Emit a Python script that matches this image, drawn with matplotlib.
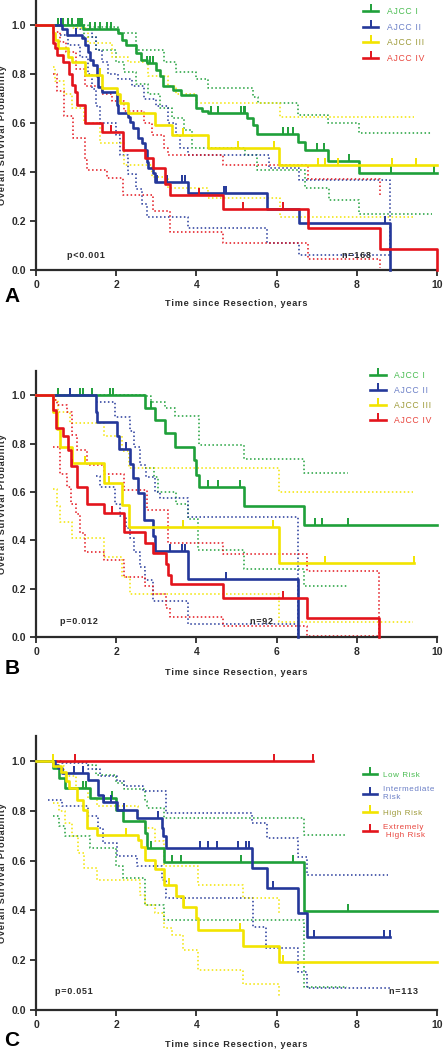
import matplotlib
matplotlib.use("Agg")
import matplotlib.pyplot as plt
from matplotlib.lines import Line2D

plt.rcParams['font.family'] = ['Liberation Sans', 'DejaVu Sans']

GREEN = "#1fa03a"
BLUE = "#24389a"
YELLOW = "#f2e400"
RED = "#e3141c"
TXT_COLORS = ["#48bc50", "#6a7ec6", "#9d9a38", "#e8443c"]

# ---------------------------------------------------------------------------
#  Panel A  (AJCC stage, n=168)   -- step points (time, survival)
# ---------------------------------------------------------------------------
A_I = [(0, 1.0), (1.18, 0.983), (2.05, 0.966), (2.15, 0.94), (2.25, 0.92), (2.5, 0.884),
       (2.63, 0.857), (2.76, 0.843), (3.0, 0.816), (3.1, 0.79), (3.17, 0.75), (3.42, 0.734),
       (3.62, 0.713), (4.0, 0.66), (4.15, 0.65), (4.29, 0.64), (5.27, 0.62), (5.42, 0.592),
       (5.5, 0.557), (6.54, 0.524), (6.71, 0.49), (7.27, 0.446), (8.05, 0.396), (10.0, 0.396)]
A_I_cens = [0.56, 0.68, 0.81, 0.89, 1.05, 1.1, 1.15, 1.34, 1.47, 1.59, 1.76, 1.88, 2.78, 2.85,
            2.92, 4.37, 4.54, 5.1, 5.18, 5.22, 6.17, 6.29, 6.42, 7.0, 7.17, 7.8, 8.85, 9.93]
A_I_hi = [(0, 1.0), (1.3, 0.99), (2.05, 0.966), (2.5, 0.9), (3.2, 0.85), (3.5, 0.81), (4.0, 0.78),
          (4.3, 0.744), (5.4, 0.707), (5.53, 0.68), (6.54, 0.633), (7.27, 0.6), (8.05, 0.558),
          (9.88, 0.558)]
A_I_lo = [(0, 1.0), (1.2, 0.95), (1.5, 0.9), (2.0, 0.85), (2.2, 0.81), (2.5, 0.76), (2.8, 0.72),
          (3.1, 0.66), (3.4, 0.62), (3.7, 0.57), (3.9, 0.5), (5.2, 0.47), (5.5, 0.408),
          (6.7, 0.333), (7.3, 0.286), (8.05, 0.229), (9.88, 0.229)]

A_II = [(0, 1.0), (0.64, 0.984), (0.78, 0.96), (1.14, 0.948), (1.22, 0.918), (1.3, 0.89),
        (1.35, 0.857), (1.43, 0.837), (1.51, 0.79), (1.55, 0.748), (1.64, 0.725), (2.01, 0.673),
        (2.05, 0.64), (2.3, 0.626), (2.35, 0.605), (2.43, 0.578), (2.55, 0.537), (2.64, 0.517),
        (2.72, 0.49), (2.76, 0.442), (2.8, 0.415), (2.93, 0.395), (2.97, 0.36), (3.8, 0.313),
        (5.76, 0.25), (6.56, 0.19), (8.83, 0.0)]
A_II_cens = [0.62, 1.0, 3.01, 3.26, 3.63, 3.72, 4.7, 4.75, 8.7]
A_II_hi = [(0, 1.0), (1.1, 0.985), (1.4, 0.95), (1.5, 0.9), (1.65, 0.85), (1.8, 0.8), (2.05, 0.78),
           (2.4, 0.75), (2.7, 0.7), (3.0, 0.67), (3.3, 0.6), (3.5, 0.55), (3.6, 0.5), (3.8, 0.47),
           (5.8, 0.415), (6.56, 0.367), (8.83, 0.06)]
A_II_lo = [(0.6, 0.96), (0.8, 0.92), (1.1, 0.87), (1.3, 0.8), (1.4, 0.74), (1.5, 0.67), (1.6, 0.6),
           (2.0, 0.55), (2.1, 0.47), (2.3, 0.39), (2.5, 0.33), (2.65, 0.27), (2.77, 0.218),
           (3.8, 0.17), (5.76, 0.11), (6.56, 0.06), (8.83, 0.06)]

A_III = [(0, 1.0), (0.43, 0.966), (0.47, 0.94), (0.56, 0.905), (0.81, 0.87), (0.89, 0.85),
         (1.22, 0.796), (1.64, 0.741), (2.01, 0.72), (2.1, 0.68), (2.3, 0.64), (2.97, 0.592),
         (3.38, 0.551), (4.3, 0.5), (6.07, 0.428), (10.0, 0.428)]
A_III_cens = [1.6, 3.67, 5.04, 5.94, 7.02, 7.21, 7.52, 8.87, 9.47]
A_III_hi = [(0, 1.0), (0.9, 0.986), (1.3, 0.925), (1.9, 0.87), (2.3, 0.85), (2.8, 0.79),
            (3.3, 0.75), (3.5, 0.72), (4.0, 0.68), (6.08, 0.625), (9.43, 0.625)]
A_III_lo = [(0.43, 0.83), (0.47, 0.77), (0.7, 0.72), (0.9, 0.66), (1.2, 0.6), (1.6, 0.52),
            (2.2, 0.43), (2.9, 0.38), (3.3, 0.333), (4.3, 0.294), (6.08, 0.218), (9.43, 0.218)]

A_IV = [(0, 1.0), (0.43, 0.925), (0.47, 0.905), (0.52, 0.878), (0.68, 0.85), (0.83, 0.8),
        (0.89, 0.755), (0.97, 0.728), (1.01, 0.673), (1.22, 0.6), (1.64, 0.565), (2.18, 0.49),
        (2.72, 0.456), (2.93, 0.415), (3.22, 0.35), (3.34, 0.306), (4.66, 0.249), (6.79, 0.17),
        (8.58, 0.086), (10.0, 0.0)]
A_IV_cens = [1.86, 4.07, 5.15, 6.17]
A_IV_hi = [(0, 1.0), (0.43, 0.97), (0.6, 0.93), (0.75, 0.89), (1.0, 0.82), (1.22, 0.75),
           (1.64, 0.72), (1.9, 0.69), (2.2, 0.65), (2.7, 0.6), (2.9, 0.55), (3.2, 0.5),
           (3.3, 0.468), (4.67, 0.427), (6.79, 0.37), (8.58, 0.3)]
A_IV_lo = [(0.43, 0.8), (0.52, 0.73), (0.7, 0.63), (0.93, 0.54), (1.22, 0.45), (1.26, 0.41),
           (1.76, 0.374), (2.18, 0.306), (2.93, 0.24), (3.34, 0.157), (4.66, 0.11),
           (6.79, 0.044), (8.58, 0.01)]

# ---------------------------------------------------------------------------
#  Panel B  (AJCC stage, n=92)
# ---------------------------------------------------------------------------
B_I = [(0, 1.0), (2.73, 0.949), (2.97, 0.897), (3.22, 0.844), (3.47, 0.786), (3.95, 0.731),
       (4.0, 0.67), (4.07, 0.619), (5.19, 0.541), (6.68, 0.463), (10.0, 0.463)]
B_I_cens = [0.56, 0.85, 1.1, 1.18, 1.39, 1.85, 1.91, 2.88, 4.3, 4.55, 5.09, 6.96, 7.12, 7.79]
B_I_hi = [(0, 1.0), (2.73, 0.995), (2.88, 0.972), (3.22, 0.945), (3.47, 0.913), (4.07, 0.793),
          (5.19, 0.738), (6.68, 0.679), (7.79, 0.679)]
B_I_lo = [(2.73, 0.7), (2.95, 0.66), (3.05, 0.6), (3.5, 0.55), (3.8, 0.49), (4.05, 0.36),
          (5.19, 0.28), (6.68, 0.211), (7.79, 0.211)]

B_II = [(0, 1.0), (1.5, 0.93), (1.53, 0.89), (2.01, 0.83), (2.08, 0.776), (2.34, 0.715),
        (2.43, 0.656), (2.55, 0.596), (2.7, 0.483), (2.93, 0.417), (2.96, 0.357), (3.8, 0.238),
        (6.53, 0.0)]
B_II_cens = [0.85, 2.24, 3.34, 3.63, 3.71, 4.75]
B_II_hi = [(1.5, 0.972), (1.97, 0.91), (2.34, 0.85), (2.45, 0.786), (2.6, 0.71), (2.75, 0.66),
           (2.97, 0.6), (3.09, 0.573), (3.8, 0.497), (6.53, 0.0)]
B_II_lo = [(1.5, 0.665), (1.6, 0.62), (1.97, 0.55), (2.1, 0.5), (2.25, 0.45), (2.35, 0.408),
           (2.45, 0.35), (2.6, 0.29), (2.72, 0.235), (2.93, 0.149), (3.8, 0.054), (6.53, 0.054)]

B_III = [(0, 1.0), (0.42, 0.93), (0.52, 0.862), (0.6, 0.786), (0.89, 0.718), (1.7, 0.638),
         (2.14, 0.545), (2.33, 0.456), (6.07, 0.304), (9.43, 0.304)]
B_III_cens = [1.22, 1.83, 3.67, 5.9, 7.2, 9.43]
B_III_hi = [(0, 1.0), (0.42, 0.98), (0.55, 0.93), (0.85, 0.886), (1.7, 0.83), (2.14, 0.77),
            (2.33, 0.697), (6.07, 0.598), (9.4, 0.598)]
B_III_lo = [(0.42, 0.614), (0.52, 0.54), (0.6, 0.476), (0.89, 0.408), (1.7, 0.332),
            (2.14, 0.249), (2.35, 0.178), (6.07, 0.061), (9.4, 0.061)]

B_IV = [(0, 1.0), (0.43, 0.94), (0.5, 0.865), (0.68, 0.83), (0.81, 0.773), (0.87, 0.707),
        (1.03, 0.621), (1.28, 0.548), (1.7, 0.511), (2.2, 0.435), (2.72, 0.387), (2.91, 0.346),
        (3.23, 0.3), (3.28, 0.256), (3.36, 0.218), (4.66, 0.162), (6.77, 0.08), (8.56, 0.0)]
B_IV_cens = [0.9, 1.89, 6.17]
B_IV_hi = [(0, 1.0), (0.43, 0.98), (0.52, 0.96), (0.77, 0.93), (0.89, 0.835), (1.03, 0.773),
           (1.28, 0.71), (1.7, 0.676), (2.2, 0.607), (2.76, 0.525), (3.3, 0.39), (4.66, 0.342),
           (6.77, 0.274), (8.56, 0.0)]
B_IV_lo = [(0.43, 0.786), (0.6, 0.676), (0.77, 0.62), (0.87, 0.55), (1.0, 0.51), (1.1, 0.43),
           (1.22, 0.352), (1.7, 0.32), (2.2, 0.247), (2.72, 0.21), (2.91, 0.178), (3.25, 0.12),
           (3.34, 0.081), (4.66, 0.045), (6.77, 0.004), (8.56, 0.004)]

# ---------------------------------------------------------------------------
#  Panel C  (risk groups, n=113)
# ---------------------------------------------------------------------------
C_LOW = [(0, 1.0), (0.43, 0.97), (0.58, 0.93), (0.72, 0.89), (1.35, 0.85), (2.0, 0.803),
         (2.16, 0.757), (2.72, 0.71), (2.76, 0.65), (3.2, 0.593), (6.68, 0.399), (10.0, 0.399)]
C_LOW_cens = [1.18, 1.25, 1.89, 2.88, 3.4, 3.62, 5.11, 6.42, 7.79]
C_LOW_hi = [(0, 1.0), (0.43, 0.995), (1.3, 0.985), (1.5, 0.944), (2.0, 0.91), (2.2, 0.886),
            (2.72, 0.84), (2.76, 0.81), (3.2, 0.772), (6.68, 0.703), (7.75, 0.703)]
C_LOW_lo = [(0.43, 0.78), (0.58, 0.74), (0.72, 0.7), (1.35, 0.65), (2.0, 0.58), (2.16, 0.529),
            (2.72, 0.42), (3.2, 0.36), (6.68, 0.094), (7.75, 0.094)]

C_INT = [(0, 1.0), (0.47, 0.984), (0.55, 0.97), (0.64, 0.953), (1.3, 0.924), (1.54, 0.863),
         (1.66, 0.835), (2.03, 0.803), (2.53, 0.77), (3.13, 0.73), (3.17, 0.7), (3.24, 0.65),
         (5.38, 0.569), (5.75, 0.489), (6.54, 0.388), (6.75, 0.292), (8.83, 0.292)]
C_INT_cens = [0.95, 1.18, 1.69, 1.86, 2.2, 3.05, 4.08, 4.3, 4.52, 5.03, 5.23, 5.3, 5.9, 6.94,
              8.69, 8.83]
C_INT_hi = [(0, 1.0), (0.64, 0.99), (1.3, 0.967), (1.6, 0.94), (2.03, 0.92), (2.2, 0.9),
            (2.68, 0.878), (3.24, 0.792), (5.38, 0.75), (5.75, 0.69), (6.54, 0.616),
            (6.75, 0.542), (8.79, 0.542)]
C_INT_lo = [(0.3, 0.843), (0.64, 0.82), (1.3, 0.78), (1.54, 0.73), (1.66, 0.67), (2.03, 0.62),
            (2.53, 0.58), (3.13, 0.52), (3.24, 0.448), (5.4, 0.335), (5.73, 0.25),
            (6.53, 0.154), (6.76, 0.087), (8.83, 0.087)]

C_HIGH = [(0, 1.0), (0.43, 0.98), (0.62, 0.957), (0.76, 0.92), (0.82, 0.89), (1.01, 0.843),
          (1.18, 0.803), (1.28, 0.73), (1.51, 0.703), (2.55, 0.683), (2.63, 0.653),
          (2.72, 0.604), (2.97, 0.566), (3.2, 0.502), (3.49, 0.458), (3.66, 0.415),
          (3.99, 0.368), (4.05, 0.321), (5.17, 0.257), (6.07, 0.194), (10.0, 0.194)]
C_HIGH_cens = [0.42, 2.24, 3.32, 3.7, 5.09, 6.15]
C_HIGH_hi = [(0, 1.0), (0.43, 0.98), (0.7, 0.94), (1.0, 0.89), (1.3, 0.85), (1.51, 0.82),
             (2.55, 0.76), (2.72, 0.73), (2.97, 0.68), (3.2, 0.58), (4.05, 0.5), (5.17, 0.448),
             (6.07, 0.38)]
C_HIGH_lo = [(0.43, 0.83), (0.58, 0.8), (0.72, 0.75), (0.9, 0.7), (1.05, 0.63), (1.2, 0.57),
             (1.51, 0.522), (2.6, 0.46), (2.72, 0.42), (2.97, 0.388), (3.2, 0.33), (3.4, 0.3),
             (3.66, 0.24), (4.05, 0.16), (5.17, 0.104), (6.07, 0.056)]

C_EXT = [(0, 1.0), (6.92, 1.0)]
C_EXT_cens = [0.97, 5.94, 6.92]

LABELS_AB = ["AJCC I", "AJCC II", "AJCC III", "AJCC IV"]
LABELS_C = ["Low Risk", "Intermediate\nRisk", "High Risk", "Extremely\n High Risk"]
P_TEXT = ["p<0.001", "p=0.012", "p=0.051"]
N_TEXT = ["n=168", "n=92", "n=113"]
X_TICKS = [0, 2, 4, 6, 8, 10]
Y_TICKS = [0.0, 0.2, 0.4, 0.6, 0.8, 1.0]

HAIR = "\u200a"


def spaced(s):
    # GraphPad-style loose tracking: hair space between glyphs, keep line breaks
    return "\n".join(HAIR.join(part) for part in s.split("\n"))


def surv_at(pts, t):
    val = pts[0][1]
    for tt, ss in pts:
        if tt <= t:
            val = ss
    return val


def draw_ci(ax, pts, color):
    ax.step([p[0] for p in pts], [p[1] for p in pts], where="post", color=color,
            lw=1.1, ls=(0, (1, 1.6)), clip_on=False, zorder=2)


def draw_km(ax, pts, cens, color):
    ax.step([p[0] for p in pts], [p[1] for p in pts], where="post", color=color,
            lw=1.9, clip_on=False, zorder=3)
    ax.plot(cens, [surv_at(pts, c) for c in cens], ls="none", marker=2, ms=5, mew=1.4,
            color=color, clip_on=False, zorder=3)


def style_axes(ax):
    ax.set_xlim(0, 10)
    ax.set_ylim(0, 1.1)
    ax.set_xticks(X_TICKS)
    ax.set_yticks(Y_TICKS)
    ax.set_yticklabels([f"{v:.1f}" for v in Y_TICKS])
    for s in ("top", "right"):
        ax.spines[s].set_visible(False)
    for s in ("left", "bottom"):
        ax.spines[s].set_linewidth(1.6)
        ax.spines[s].set_color("#2b2b2b")
    ax.tick_params(direction="out", length=4, width=1.3, colors="#2b2b2b",
                   labelsize=7.5, pad=3)
    for lab in ax.get_xticklabels() + ax.get_yticklabels():
        lab.set_fontweight("bold")
    ax.set_ylabel(spaced("Overall Survival Probability"), fontsize=6.6,
                  fontweight="bold", color="#2b2b2b")
    ax.yaxis.set_label_coords(-0.072, 0.5)
    ax.set_xlabel(spaced("Time since Resection, years"), fontsize=6.6,
                  fontweight="bold", color="#2b2b2b")


def add_legend(ax, labels, colors, anchor, spacing, pad=1.0, size=6.2):
    handles = [Line2D([0], [0], color=c, lw=1.9, marker=2, ms=5, mew=1.4) for c in colors]
    leg = ax.legend(handles, [spaced(l) for l in labels], loc="upper left",
                    bbox_to_anchor=anchor, frameon=False, numpoints=1, handlelength=1.8,
                    handletextpad=pad, labelspacing=spacing, fontsize=size, borderaxespad=0,
                    borderpad=0)
    for txt, c in zip(leg.get_texts(), TXT_COLORS):
        txt.set_color(c)


fig = plt.figure(figsize=(4.43, 10.5), dpi=100)
axA = fig.add_axes([36 / 443, 1 - 270 / 1050, 401 / 443, 269.5 / 1050])
axB = fig.add_axes([36 / 443, 1 - 637 / 1050, 401 / 443, 266 / 1050])
axC = fig.add_axes([36 / 443, 1 - 1010 / 1050, 401 / 443, 274 / 1050])

colors = [GREEN, BLUE, YELLOW, RED]

# panel A
for hi, lo, c in [(A_I_hi, A_I_lo, GREEN), (A_II_hi, A_II_lo, BLUE),
                  (A_III_hi, A_III_lo, YELLOW), (A_IV_hi, A_IV_lo, RED)]:
    draw_ci(axA, hi, c)
    draw_ci(axA, lo, c)
for km, cens, c in [(A_I, A_I_cens, GREEN), (A_II, A_II_cens, BLUE),
                    (A_III, A_III_cens, YELLOW), (A_IV, A_IV_cens, RED)]:
    draw_km(axA, km, cens, c)

# panel B
for hi, lo, c in [(B_I_hi, B_I_lo, GREEN), (B_II_hi, B_II_lo, BLUE),
                  (B_III_hi, B_III_lo, YELLOW), (B_IV_hi, B_IV_lo, RED)]:
    draw_ci(axB, hi, c)
    draw_ci(axB, lo, c)
for km, cens, c in [(B_I, B_I_cens, GREEN), (B_II, B_II_cens, BLUE),
                    (B_III, B_III_cens, YELLOW), (B_IV, B_IV_cens, RED)]:
    draw_km(axB, km, cens, c)

# panel C
for hi, lo, c in [(C_LOW_hi, C_LOW_lo, GREEN), (C_INT_hi, C_INT_lo, BLUE),
                  (C_HIGH_hi, C_HIGH_lo, YELLOW)]:
    draw_ci(axC, hi, c)
    draw_ci(axC, lo, c)
draw_km(axC, C_EXT, C_EXT_cens, RED)
for km, cens, c in [(C_LOW, C_LOW_cens, GREEN), (C_INT, C_INT_cens, BLUE),
                    (C_HIGH, C_HIGH_cens, YELLOW)]:
    draw_km(axC, km, cens, c)

for ax in (axA, axB, axC):
    style_axes(ax)

axA.xaxis.set_label_coords(0.5, -0.108)
axB.xaxis.set_label_coords(0.5, -0.117)
axC.xaxis.set_label_coords(0.5, -0.108)

add_legend(axA, LABELS_AB, colors, (0.815, 0.975), 0.75)
add_legend(axB, LABELS_AB, colors, (0.833, 1.0), 0.7)
add_legend(axC, LABELS_C, colors, (0.815, 0.872), 0.95, pad=0.7, size=5.8)

for ax, p, n, (px, py), (nx, ny) in [(axA, P_TEXT[0], N_TEXT[0], (0.77, 0.06), (7.63, 0.06)),
                                     (axB, P_TEXT[1], N_TEXT[1], (0.6, 0.066), (5.34, 0.066)),
                                     (axC, P_TEXT[2], N_TEXT[2], (0.47, 0.073), (8.8, 0.073))]:
    ax.text(px, py, spaced(p), fontsize=6.5, fontweight="bold", color="#2b2b2b",
            va="center", ha="left", zorder=5)
    ax.text(nx, ny, spaced(n), fontsize=6.5, fontweight="bold", color="#2b2b2b",
            va="center", ha="left", zorder=5)

for letter, y in [("A", 296), ("B", 669), ("C", 1041)]:
    fig.text(12 / 443, 1 - y / 1050, letter, fontsize=15, fontweight="bold",
             ha="center", va="center")

fig.savefig("out.png", dpi=100)
